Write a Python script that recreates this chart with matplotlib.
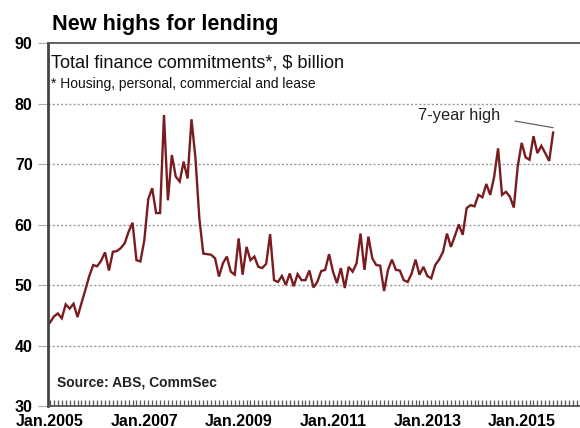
import matplotlib
matplotlib.use("Agg")
from matplotlib import pyplot as plt
from matplotlib.ticker import MultipleLocator, FixedLocator, FixedFormatter

plt.rcParams['font.family'] = ['Liberation Sans', 'DejaVu Sans']

# Total finance commitments, $ billion, monthly from Jan 2005
valori = [
    43.8, 44.8, 45.3, 44.5, 46.8, 46.1, 46.9, 44.7, 47.0, 49.2, 51.5, 53.3,   # 2005
    53.1, 54.0, 55.4, 52.4, 55.5, 55.6, 56.1, 56.9, 58.8, 60.3, 54.1, 53.9,   # 2006
    57.4, 64.2, 66.0, 61.9, 61.9, 78.1, 64.0, 71.5, 67.9, 67.1, 70.4, 67.6,   # 2007
    77.4, 71.0, 61.0, 55.2, 55.1, 55.0, 54.4, 51.4, 53.6, 54.7, 52.2, 51.7,   # 2008
    57.7, 51.7, 56.3, 54.1, 54.7, 53.0, 52.8, 53.5, 58.4, 50.8, 50.5, 51.5,   # 2009
    50.0, 51.9, 49.8, 51.8, 50.8, 50.8, 52.4, 49.6, 50.5, 52.3, 52.5, 55.1,   # 2010
    52.2, 50.3, 52.8, 49.5, 53.0, 52.2, 53.6, 58.5, 52.5, 58.0, 54.4, 53.3,   # 2011
    53.2, 49.0, 52.5, 54.2, 52.5, 52.4, 50.8, 50.5, 51.9, 54.2, 51.7, 53.0,   # 2012
    51.5, 51.1, 53.3, 54.2, 55.5, 58.5, 56.3, 58.1, 60.0, 58.3, 62.7, 63.2,   # 2013
    63.0, 64.9, 64.5, 66.7, 64.9, 67.9, 72.6, 64.9, 65.4, 64.6, 62.8, 69.6,   # 2014
    73.5, 71.1, 70.7, 74.6, 71.8, 73.0, 71.8, 70.5, 75.2,                     # 2015
]
mesi = list(range(len(valori)))

etichette_x = ['Jan.2005', 'Jan.2007', 'Jan.2009', 'Jan.2011', 'Jan.2013', 'Jan.2015']
pos_x = [0, 24, 48, 72, 96, 120]
tick_y = [30, 40, 50, 60, 70, 80, 90]

fig = plt.figure(figsize=(5.8, 4.28), dpi=100)
ax = fig.add_axes([0.0828, 0.0514, 0.921, 0.8481])

ax.plot(mesi, valori, color='#7a1c1f', linewidth=1.7, solid_joinstyle='miter')

ax.set_xlim(-0.5, 135.4)
ax.set_ylim(30, 90)

# griglia tratteggiata orizzontale
for v in tick_y[1:-1]:
    ax.axhline(v, color='#9a9a9a', linewidth=1.0, linestyle=(0, (1.5, 1.5)), zorder=0)

ax.yaxis.set_major_locator(FixedLocator(tick_y))
ax.tick_params(axis='y', direction='out', length=7, width=0.8, color='#aaaaaa',
               labelsize=11.5, pad=4)
for t in ax.get_yticklabels():
    t.set_fontweight('bold')

ax.xaxis.set_major_locator(FixedLocator(pos_x))
ax.xaxis.set_major_formatter(FixedFormatter(etichette_x))
ax.xaxis.set_minor_locator(MultipleLocator(1))
ax.tick_params(axis='x', which='both', direction='in', length=4, width=0.9,
               color='#555555', labelsize=11.5, pad=6)
for t in ax.get_xticklabels():
    t.set_fontweight('bold')

for lato in ['top', 'right', 'bottom']:
    ax.spines[lato].set_color('#555555')
    ax.spines[lato].set_linewidth(1.3)
ax.spines['left'].set_color('#444444')
ax.spines['left'].set_linewidth(2.0)

# testi
fig.text(52 / 580, 1 - 30 / 428, 'New highs for lending', fontsize=15.6,
         fontweight='bold', ha='left', va='baseline')
ax.text(0.006, 0.968, 'Total finance commitments*, $ billion', transform=ax.transAxes,
        fontsize=13.1, ha='left', va='top', color='#111111')
ax.text(0.006, 0.905, '* Housing, personal, commercial and lease', transform=ax.transAxes,
        fontsize=10.0, ha='left', va='top', color='#111111')
ax.text(0.017, 0.045, 'Source: ABS, CommSec', transform=ax.transAxes,
        fontsize=10, fontweight='bold', ha='left', va='bottom', color='#222222')

# annotazione massimo
ax.text(93.5, 78.0, '7-year high', fontsize=11.8, ha='left', va='center', color='#222222')
ax.annotate('', xy=(mesi[-1], valori[-1] + 0.8), xytext=(118.3, 77.1),
            arrowprops=dict(arrowstyle='-', color='#666666', linewidth=0.9,
                            shrinkA=0, shrinkB=0))

fig.savefig('out.png', dpi=100)
